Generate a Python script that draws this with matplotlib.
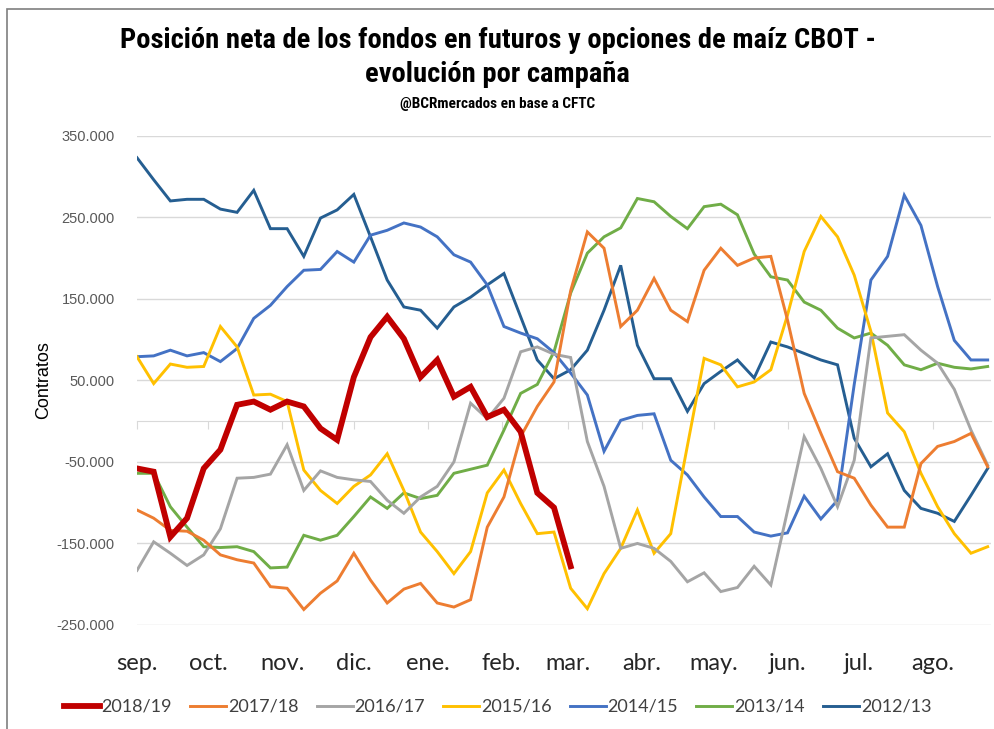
import numpy as np
import matplotlib.pyplot as plt
from matplotlib.lines import Line2D
from matplotlib.patches import Rectangle

# weekly net position (thousand contracts), week 0 = start of september
c2018_19 = [-58, -62, -142, -119, -58, -35, 20, 24, 14, 24, 18, -9, -23, 54, 103, 128, 101, 54, 75, 30,
            42, 5, 14, -13, -88, -106, -178]
c2017_18 = [-109, -119, -134, -135, -146, -164, -170, -174, -203, -205, -231, -211, -196, -162, -195, -223,
            -206, -199, -223, -228, -219, -130, -93, -19, 18, 48, 160, 232, 212, 116, 136, 175, 136, 122,
            185, 212, 191, 200, 202, 124, 34, -15, -62, -70, -103, -130, -130, -52, -31, -25, -15, -56]
c2016_17 = [-183, -148, -162, -177, -164, -132, -70, -69, -65, -29, -85, -61, -69, -72, -74, -97, -113,
            -93, -80, -50, 22, 3, 28, 85, 91, 82, 78, -25, -80, -156, -150, -156, -172, -197, -186, -209,
            -204, -178, -201, -110, -19, -58, -105, -48, 102, 104, 106, 87, 71, 39, -11, -54]
c2015_16 = [79, 46, 70, 66, 67, 116, 91, 32, 33, 24, -60, -85, -101, -80, -66, -40, -85, -136, -160, -187,
            -160, -88, -60, -101, -138, -136, -205, -230, -187, -156, -109, -162, -138, -30, 77, 69, 42,
            48, 63, 130, 208, 251, 226, 179, 110, 10, -13, -64, -105, -138, -162, -154]
c2014_15 = [79, 80, 87, 80, 84, 73, 89, 126, 142, 165, 185, 186, 208, 195, 228, 234, 243, 238, 226, 204,
            195, 167, 116, 108, 101, 84, 59, 32, -37, 1, 7, 9, -48, -66, -93, -117, -117, -136, -141,
            -137, -92, -120, -97, 45, 173, 202, 277, 240, 165, 99, 75, 75]
c2013_14 = [-64, -64, -105, -130, -154, -155, -154, -160, -180, -179, -140, -146, -140, -117, -93, -107,
            -88, -95, -91, -64, -59, -54, -11, 34, 45, 85, 157, 206, 226, 237, 273, 269, 251, 236, 263,
            266, 253, 205, 177, 173, 146, 136, 114, 102, 108, 93, 69, 63, 71, 66, 64, 67]
c2012_13 = [323, 296, 270, 272, 272, 260, 256, 283, 236, 236, 202, 249, 259, 278, 226, 173, 140, 136, 114,
            140, 152, 167, 181, 128, 75, 52, 63, 87, 136, 191, 93, 52, 52, 12, 46, 61, 75, 53, 97, 91, 83,
            75, 69, -21, -56, -40, -85, -107, -113, -123, -91, -58]

campanas = ['2018/19', '2017/18', '2016/17', '2015/16', '2014/15', '2013/14', '2012/13']
series = [c2018_19, c2017_18, c2016_17, c2015_16, c2014_15, c2013_14, c2012_13]
colores = ['#C00000', '#ED7D31', '#A5A5A5', '#FFC000', '#4472C4', '#70AD47', '#255E91']

meses = ['sep.', 'oct.', 'nov.', 'dic.', 'ene.', 'feb.', 'mar.', 'abr.', 'may.', 'jun.', 'jul.', 'ago.']
dias_mes = [30, 31, 30, 31, 31, 28, 31, 30, 31, 30, 31, 31]

# month starts expressed in weeks
pos_mes = np.concatenate([[0], np.cumsum(dias_mes)[:-1]]) / 7.0

fig = plt.figure(figsize=(9.95, 7.29), dpi=100)
ax = fig.add_axes([137 / 995, 1 - 625 / 729, 854 / 995, (625 - 135.7) / 729])

for i in range(len(series) - 1, -1, -1):
    y = np.array(series[i]) * 1000
    x = np.arange(len(y))
    lw = 4.2 if i == 0 else 2.1
    ax.plot(x, y, color=colores[i], lw=lw, solid_joinstyle='miter', zorder=3 + (7 - i) if i else 20)

ax.set_xlim(0, 51.2)
ax.set_ylim(-250000, 350000)
yt = np.arange(-250000, 350001, 100000)
ax.set_yticks(yt)
ax.set_yticklabels([f'{v:,.0f}'.replace(',', '.') for v in yt], fontsize=10.5, color='#595959',
                   family='Liberation Sans')
ax.grid(axis='y', color='#D9D9D9', lw=1)
ax.set_axisbelow(True)
for s in ['left', 'right', 'top']:
    ax.spines[s].set_visible(False)
ax.spines['bottom'].set_position(('data', 0))
ax.spines['bottom'].set_color('#D9D9D9')
ax.tick_params(axis='y', length=0, pad=16)
ax.set_xticks(pos_mes)
ax.set_xticklabels([])
ax.tick_params(axis='x', direction='out', length=6, color='#D9D9D9')

for p, m in zip(pos_mes, meses):
    ax.text(p, -0.078, m, transform=ax.get_xaxis_transform(), ha='center', va='center',
            fontsize=17, color='#262626', family='Lato')

ax.set_ylabel('Contratos', fontsize=13, color='#000000', labelpad=3, family='Liberation Sans')

tfam = ['Liberation Sans Narrow', 'Roboto Condensed', 'DejaVu Sans']
fig.text(0.5, 1 - 40 / 729, 'Posición neta de los fondos en futuros y opciones de maíz CBOT -',
         ha='center', va='center', fontsize=20.5, fontweight='bold', family=tfam, fontstretch='condensed')
fig.text(0.5, 1 - 75 / 729, 'evolución por campaña', ha='center', va='center', fontsize=20.5,
         fontweight='bold', family=tfam, fontstretch='condensed')
fig.text(0.5, 1 - 104 / 729, '@BCRmercados en base a CFTC', ha='center', va='center', fontsize=11,
         fontweight='bold', family=tfam, fontstretch='condensed')

handles = [Line2D([], [], color=c, lw=(4.2 if k == 0 else 2.1)) for k, c in enumerate(colores)]
fig.legend(handles, campanas, loc='center', bbox_to_anchor=(0.5, 1 - 707 / 729), ncol=7, frameon=False,
           handlelength=2.0, handletextpad=0.1, columnspacing=1.0,
           prop={'family': 'Lato', 'size': 13}, labelcolor='#404040')

# chart border (partially cropped in the original)
fig.add_artist(Rectangle((7 / 995, -0.1), 1.2, 1 - 9 / 729 + 0.1, transform=fig.transFigure,
                         fill=False, edgecolor='#7F7F7F', lw=1.2))

fig.savefig('out.png', dpi=100)
